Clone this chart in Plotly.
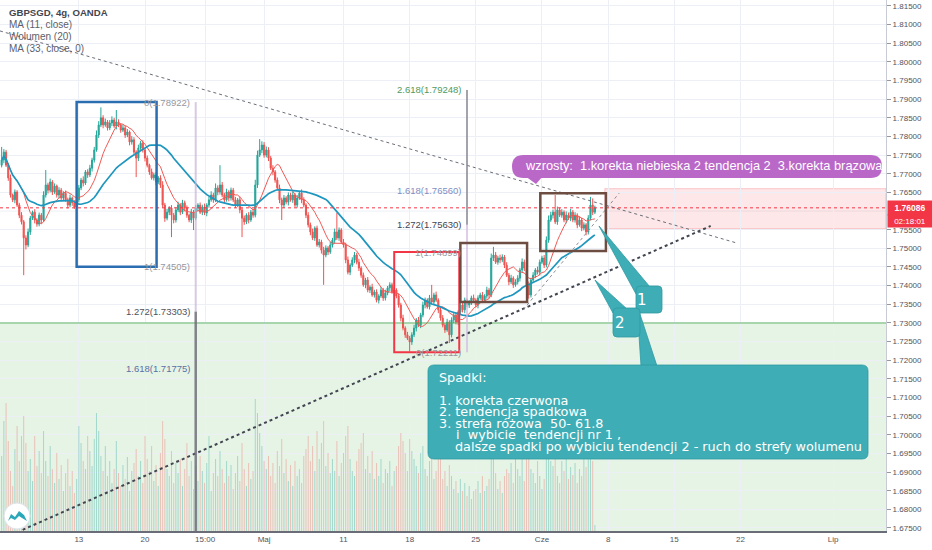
import pandas as pd
import plotly.graph_objects as go

# 4h bars, Mon-Fri only (forex), 3 Apr 2020 04:00 .. 5 Jun 2020 00:00
times = pd.date_range("2020-04-03 04:00", "2020-06-05 00:00", freq="4h")
times = times[times.dayofweek < 5]

first_open = 1.7723
closes = [
    1.7737, 1.7758, 1.7723, 1.7689, 1.7643, 1.7630, 1.7651, 1.7616, 1.7589, 1.7571,
    1.7528, 1.7509, 1.7544, 1.7581, 1.7597, 1.7576, 1.7565, 1.7589, 1.7576, 1.7643,
    1.7670, 1.7656, 1.7678, 1.7651, 1.7667, 1.7643, 1.7656, 1.7635, 1.7648, 1.7630,
    1.7616, 1.7635, 1.7622, 1.7611, 1.7630, 1.7662, 1.7683, 1.7675, 1.7705, 1.7697,
    1.7715, 1.7737, 1.7764, 1.7804, 1.7831, 1.7850, 1.7831, 1.7839, 1.7823, 1.7836,
    1.7844, 1.7828, 1.7839, 1.7831, 1.7817, 1.7823, 1.7804, 1.7812, 1.7785, 1.7791,
    1.7758, 1.7742, 1.7769, 1.7782, 1.7764, 1.7742, 1.7723, 1.7705, 1.7689, 1.7697,
    1.7678, 1.7689, 1.7670, 1.7616, 1.7581, 1.7597, 1.7608, 1.7589, 1.7576, 1.7603,
    1.7616, 1.7597, 1.7622, 1.7608, 1.7589, 1.7576, 1.7597, 1.7581, 1.7608, 1.7616,
    1.7597, 1.7611, 1.7595, 1.7616, 1.7630, 1.7643, 1.7630, 1.7662, 1.7651, 1.7670,
    1.7643, 1.7630, 1.7651, 1.7635, 1.7656, 1.7630, 1.7616, 1.7630, 1.7603, 1.7581,
    1.7571, 1.7589, 1.7576, 1.7597, 1.7589, 1.7670, 1.7750, 1.7764, 1.7777, 1.7750,
    1.7764, 1.7742, 1.7715, 1.7705, 1.7683, 1.7662, 1.7630, 1.7616, 1.7635, 1.7624,
    1.7643, 1.7630, 1.7643, 1.7616, 1.7635, 1.7648, 1.7630, 1.7616, 1.7589, 1.7563,
    1.7544, 1.7528, 1.7554, 1.7509, 1.7517, 1.7495, 1.7482, 1.7501, 1.7490, 1.7509,
    1.7522, 1.7544, 1.7528, 1.7549, 1.7517, 1.7509, 1.7469, 1.7436, 1.7455, 1.7469,
    1.7482, 1.7463, 1.7447, 1.7428, 1.7402, 1.7415, 1.7388, 1.7396, 1.7375, 1.7383,
    1.7361, 1.7372, 1.7388, 1.7367, 1.7380, 1.7394, 1.7402, 1.7383, 1.7388, 1.7372,
    1.7348, 1.7313, 1.7286, 1.7268, 1.7259, 1.7249, 1.7268, 1.7286, 1.7308, 1.7294,
    1.7321, 1.7348, 1.7361, 1.7343, 1.7367, 1.7356, 1.7375, 1.7361, 1.7335, 1.7313,
    1.7294, 1.7281, 1.7302, 1.7268, 1.7308, 1.7321, 1.7302, 1.7329, 1.7348, 1.7335,
    1.7361, 1.7348, 1.7353, 1.7367, 1.7361, 1.7348, 1.7367, 1.7375, 1.7361, 1.7372,
    1.7388, 1.7375, 1.7474, 1.7482, 1.7463, 1.7474, 1.7469, 1.7477, 1.7455, 1.7428,
    1.7410, 1.7420, 1.7402, 1.7410, 1.7420, 1.7442, 1.7463, 1.7447, 1.7402, 1.7375,
    1.7415, 1.7428, 1.7442, 1.7436, 1.7463, 1.7474, 1.7455, 1.7522, 1.7576, 1.7589,
    1.7597, 1.7571, 1.7603, 1.7589, 1.7597, 1.7576, 1.7589, 1.7581, 1.7597, 1.7576,
    1.7589, 1.7563, 1.7576, 1.7554, 1.7563, 1.7544, 1.7581, 1.7616, 1.7597, 1.76086,
]

# wick lengths above / below the candle body, in pips
wick_up = [
    35, 8, 6, 5, 9, 4, 7, 5, 6, 8,
    5, 7, 9, 6, 4, 8, 5, 7, 6, 10,
    40, 6, 9, 5, 7, 4, 8, 6, 5, 7,
    6, 9, 4, 7, 5, 8, 6, 10, 5, 7,
    9, 6, 8, 12, 10, 28, 7, 9, 5, 8,
    10, 6, 32, 7, 5, 9, 6, 8, 4, 10,
    7, 5, 9, 6, 8, 5, 7, 4, 9, 6,
    8, 5, 7, 10, 6, 9, 5, 8, 6, 7,
    9, 5, 8, 6, 7, 4, 9, 6, 8, 5,
    7, 6, 9, 5, 8, 10, 6, 12, 7, 53,
    8, 6, 9, 5, 7, 6, 8, 5, 9, 6,
    7, 5, 8, 6, 9, 14, 12, 29, 10, 8,
    9, 7, 6, 8, 5, 7, 9, 6, 8, 5,
    7, 6, 9, 5, 8, 6, 10, 7, 5, 8,
    6, 9, 5, 7, 8, 6, 9, 7, 5, 8,
    6, 9, 51, 7, 5, 8, 6, 9, 5, 7,
    8, 6, 9, 5, 7, 6, 8, 5, 9, 6,
    7, 5, 8, 6, 9, 5, 7, 6, 8, 5,
    7, 6, 9, 5, 8, 6, 7, 9, 5, 8,
    6, 9, 7, 5, 8, 35, 6, 9, 5, 7,
    8, 6, 9, 5, 7, 6, 8, 5, 9, 6,
    7, 5, 8, 6, 9, 5, 7, 6, 8, 5,
    9, 6, 12, 22, 8, 6, 9, 7, 5, 8,
    6, 9, 5, 7, 8, 6, 10, 7, 5, 9,
    6, 8, 5, 9, 7, 6, 8, 10, 12, 9,
    7, 46, 9, 6, 8, 5, 10, 7, 9, 6,
    8, 5, 9, 6, 7, 5, 8, 22, 18, 6,
]
wick_dn = [
    6, 9, 5, 8, 7, 6, 9, 5, 8, 7,
    100, 12, 6, 8, 5, 9, 7, 6, 10, 5,
    7, 9, 6, 8, 5, 7, 9, 6, 8, 5,
    9, 6, 8, 5, 8, 7, 6, 9, 5, 8,
    6, 9, 7, 5, 8, 6, 9, 5, 7, 6,
    8, 5, 9, 6, 7, 5, 8, 6, 9, 7,
    6, 51, 8, 5, 7, 9, 6, 8, 5, 7,
    9, 6, 8, 7, 10, 6, 8, 59, 9, 7,
    6, 8, 5, 9, 7, 6, 8, 32, 6, 9,
    5, 8, 6, 9, 7, 5, 8, 6, 9, 7,
    6, 8, 5, 9, 7, 6, 8, 5, 9, 51,
    8, 6, 9, 5, 7, 6, 8, 5, 9, 7,
    6, 8, 5, 9, 7, 6, 9, 40, 8, 6,
    9, 5, 8, 6, 7, 5, 9, 6, 8, 7,
    9, 6, 8, 5, 7, 9, 80, 6, 8, 5,
    7, 9, 6, 8, 5, 7, 9, 6, 8, 5,
    9, 6, 8, 7, 5, 9, 6, 8, 5, 7,
    6, 9, 5, 8, 7, 6, 9, 5, 8, 6,
    7, 9, 6, 8, 5, 26, 8, 6, 9, 5,
    8, 6, 9, 5, 7, 6, 8, 5, 9, 7,
    6, 8, 5, 22, 7, 9, 6, 8, 5, 7,
    9, 6, 8, 5, 7, 6, 9, 5, 8, 6,
    7, 9, 6, 8, 5, 7, 9, 6, 8, 5,
    9, 6, 8, 5, 7, 9, 6, 8, 12, 10,
    7, 5, 8, 6, 9, 5, 8, 6, 7, 5,
    9, 6, 8, 5, 7, 6, 9, 5, 8, 6,
    7, 9, 5, 8, 6, 9, 7, 6, 8, 5,
]

volume = [
    75, 110, 128, 90, 60, 45, 82, 105, 70, 95,
    115, 88, 60, 72, 50, 95, 65, 80, 58, 100,
    70, 55, 85, 62, 48, 78, 52, 66, 40, 58,
    72, 45, 60, 38, 52, 105, 88, 70, 62, 95,
    80, 65, 92, 118, 100, 75, 60, 85, 55, 70,
    48, 62, 90, 58, 45, 66, 52, 74, 40, 60,
    68, 82, 55, 70, 48, 95, 72, 60, 85, 50,
    66, 45, 78, 110, 92, 62, 55, 80, 48, 68,
    58, 72, 45, 62, 88, 55, 70, 42, 65, 50,
    75, 60, 48, 68, 95, 40, 58, 72, 55, 80,
    62, 48, 70, 55, 66, 42, 58, 75, 50, 88,
    62, 45, 68, 52, 60, 132, 118, 98, 85, 70,
    62, 75, 55, 68, 48, 80, 65, 92, 58, 72,
    50, 66, 45, 70, 55, 62, 48, 75, 82, 95,
    70, 85, 60, 100, 72, 88, 110, 65, 78, 58,
    72, 60, 90, 55, 68, 78, 95, 105, 72, 60,
    55, 70, 82, 88, 98, 62, 75, 58, 80, 52,
    68, 55, 72, 48, 62, 58, 70, 45, 60, 65,
    85, 98, 90, 78, 60, 92, 80, 72, 65, 58,
    78, 85, 62, 55, 70, 88, 52, 60, 72, 80,
    52, 60, 45, 66, 55, 42, 50, 38, 52, 40,
    48, 35, 45, 32, 40, 42, 50, 38, 55, 40,
    45, 52, 95, 75, 58, 42, 50, 38, 55, 62,
    58, 68, 48, 72, 62, 55, 90, 50, 78, 85,
    62, 58, 48, 70, 55, 42, 52, 100, 92, 70,
    65, 78, 55, 48, 70, 60, 74, 52, 64, 56,
    68, 48, 62, 55, 76, 64, 82, 88, 70, 6,
]

tick_dates = ["2020-04-13", "2020-04-20", "2020-04-24 13:00", "2020-05-01", "2020-05-11",
              "2020-05-18", "2020-05-25", "2020-06-01", "2020-06-08", "2020-06-15",
              "2020-06-22", "2020-07-01"]
tick_labels = ["13", "20", "15:00", "Maj", "11", "18", "25", "Cze", "8", "15", "22", "Lip"]
# price ticks; 1.76000 sits under the last-price label, so it is not labelled
price_ticks = [1.675, 1.68, 1.685, 1.69, 1.695, 1.70, 1.705, 1.71, 1.715, 1.72, 1.725, 1.73,
               1.735, 1.74, 1.745, 1.75, 1.755, 1.765, 1.77, 1.775, 1.78, 1.785, 1.79,
               1.795, 1.80, 1.805, 1.81, 1.815]

last_price = 1.76086
volume_zone = 1.73

fib_left = [("0(1.78922)", 1.78922, "#9598a1"), ("1(1.74505)", 1.74505, "#9598a1"),
            ("1.272(1.73303)", 1.73303, "#50535e"), ("1.618(1.71775)", 1.71775, "#5b6fa5")]
fib_right = [("2.618(1.79248)", 1.79248, "#4e9a5e"), ("1.618(1.76560)", 1.76560, "#7f8fc4"),
             ("1.272(1.75630)", 1.75630, "#434651"), ("1(1.74899)", 1.74899, "#9598a1"),
             ("0(1.72211)", 1.72211, "#9598a1")]

assert len(times) == len(closes) == len(wick_up) == len(wick_dn) == len(volume)

opens = [first_open] + closes[:-1]
highs = [max(o, c) + u / 10000 for o, c, u in zip(opens, closes, wick_up)]
lows = [min(o, c) - d / 10000 for o, c, d in zip(opens, closes, wick_dn)]
ma11 = pd.Series(closes).rolling(11, min_periods=1).mean()
ma33 = pd.Series(closes).rolling(33, min_periods=1).mean()
vol_colors = ["rgba(38,166,154,0.36)" if c >= o else "rgba(239,83,80,0.32)"
              for o, c in zip(opens, closes)]

Y_RANGE = [1.67419, 1.8166]
X_RANGE = ["2020-04-03 01:00", "2020-07-07 00:00"]
W, H = 886, 531  # plot area in pixels


def px(x):
    return x / W


def py(y):
    return 1 - y / H


def poly(points):
    return "M " + " L ".join(f"{px(x):.5f},{py(y):.5f}" for x, y in points) + " Z"


def rrect(x0, y0, x1, y1, r):
    rx, ry = r / W, r / H
    X0, X1, Y0, Y1 = px(x0), px(x1), py(y0), py(y1)
    return (f"M {X0+rx},{Y0} L {X1-rx},{Y0} Q {X1},{Y0} {X1},{Y0-ry} "
            f"L {X1},{Y1+ry} Q {X1},{Y1} {X1-rx},{Y1} L {X0+rx},{Y1} "
            f"Q {X0},{Y1} {X0},{Y1+ry} L {X0},{Y0-ry} Q {X0},{Y0} {X0+rx},{Y0} Z")


fig = go.Figure()
fig.add_trace(go.Bar(x=times, y=volume, yaxis="y2", marker_color=vol_colors,
                     marker_line_width=0, width=4 * 3600 * 1000 * 0.45))
fig.add_trace(go.Candlestick(
    x=times, open=opens, high=highs, low=lows, close=closes,
    increasing=dict(line=dict(color="#26a69a", width=1), fillcolor="#26a69a"),
    decreasing=dict(line=dict(color="#ef5350", width=1), fillcolor="#ef5350"),
))
fig.add_trace(go.Scatter(x=times, y=ma11, mode="lines", line=dict(color="#f05a55", width=1)))
fig.add_trace(go.Scatter(x=times, y=ma33, mode="lines", line=dict(color="#1e96be", width=1.7)))

shapes = []
# zones
shapes.append(dict(type="line", xref="paper", yref="y", x0=0, x1=1, y0=1.76, y1=1.76,
                   line=dict(color="#eceff5", width=1), layer="below"))
shapes.append(dict(type="rect", xref="paper", yref="y", x0=0, x1=1, y0=Y_RANGE[0], y1=volume_zone,
                   fillcolor="rgba(76,175,80,0.14)", line_width=0, layer="below"))
shapes.append(dict(type="line", xref="paper", yref="y", x0=0, x1=1, y0=volume_zone, y1=volume_zone,
                   line=dict(color="rgba(76,175,80,0.55)", width=1.5)))
shapes.append(dict(type="rect", xref="x", yref="y", x0="2020-06-05 18:00", x1=X_RANGE[1],
                   y0=1.7553, y1=1.7660, fillcolor="rgba(242,54,69,0.12)",
                   line=dict(color="rgba(242,54,69,0.25)", width=1), layer="below"))
shapes.append(dict(type="line", xref="paper", yref="y", x0=0, x1=1, y0=last_price, y1=last_price,
                   line=dict(color="#f23645", width=1, dash="dot")))
# trend lines
shapes.append(dict(type="line", x0="2020-04-03 01:00", y0=1.8083, x1="2020-06-19 18:00", y1=1.7514,
                   line=dict(color="#6a6d78", width=1, dash="dot")))
shapes.append(dict(type="line", x0="2020-04-06 18:00", y0=1.6745, x1="2020-06-17 18:00", y1=1.7560,
                   line=dict(color="#434651", width=2, dash="dot")))
shapes.append(dict(type="line", x0="2020-05-28 14:00", y0=1.7335, x1="2020-06-08 20:00", y1=1.7648,
                   line=dict(color="#8a8d96", width=1, dash="dot")))
# fib verticals
shapes.append(dict(type="line", x0="2020-04-23 20:00", x1="2020-04-23 20:00", y0=1.78922, y1=1.73303,
                   line=dict(color="rgba(200,180,215,0.7)", width=2)))
shapes.append(dict(type="line", x0="2020-04-23 20:00", x1="2020-04-23 20:00", y0=1.73303, y1=Y_RANGE[0],
                   line=dict(color="rgba(110,110,120,0.85)", width=2.5)))
shapes.append(dict(type="line", x0="2020-05-22 08:00", x1="2020-05-22 08:00", y0=1.79248, y1=1.7563,
                   line=dict(color="rgba(140,140,150,0.8)", width=2)))
shapes.append(dict(type="line", x0="2020-05-22 08:00", x1="2020-05-22 08:00", y0=1.7563, y1=1.72211,
                   line=dict(color="rgba(210,185,225,0.7)", width=2)))
# boxes
shapes.append(dict(type="rect", x0="2020-04-10 20:00", x1="2020-04-20 21:00", y0=1.74505, y1=1.78922,
                   line=dict(color="#2a6db0", width=2.5)))
shapes.append(dict(type="rect", x0="2020-05-14 20:00", x1="2020-05-21 18:00", y0=1.72211, y1=1.74899,
                   line=dict(color="#f23645", width=2)))
shapes.append(dict(type="rect", x0="2020-05-21 20:00", x1="2020-05-28 21:00", y0=1.7356, y1=1.7514,
                   line=dict(color="#6d4c41", width=2.5)))
shapes.append(dict(type="rect", x0="2020-05-29 21:00", x1="2020-06-05 20:00", y0=1.7493, y1=1.7648,
                   line=dict(color="#6d4c41", width=2.5)))
# callouts
teal = "#3fadb5"
for p in [poly([(641, 366), (657, 366), (637, 305)]), rrect(428, 365, 868, 459, 6),
          poly([(599, 226), (636, 294), (650, 287)]), rrect(636, 286, 662, 313, 4),
          poly([(595, 280), (613, 313), (627, 309)]), rrect(613, 308, 640, 337, 4)]:
    shapes.append(dict(type="path", xref="paper", yref="paper", path=p, fillcolor=teal,
                       line=dict(color="#2e9aa2", width=0.8)))
purple = "#ba68c8"
shapes.append(dict(type="path", xref="paper", yref="paper", path=rrect(512, 155, 882, 178, 11.5),
                   fillcolor=purple, line_width=0))
shapes.append(dict(type="path", xref="paper", yref="paper", path=poly([(525, 176), (543, 176), (536, 184)]),
                   fillcolor=purple, line_width=0))
# logo
shapes.append(dict(type="circle", xref="paper", yref="paper", x0=px(4), x1=px(30), y0=py(529), y1=py(503),
                   fillcolor="white", line=dict(color="#e0e3eb", width=1)))
shapes.append(dict(type="path", xref="paper", yref="paper",
                   path=poly([(8, 521), (11, 514), (15, 517), (19, 511), (24, 515), (27, 521), (22, 518),
                              (19, 516), (15, 520), (11, 518)]),
                   fillcolor="#2aa7b8", line_width=0))

ann = []
legend_rows = [("GBPSGD, 4g, OANDA", 12, True), ("MA (11, close)", 24, False),
               ("Wolumen (20)", 36, False), ("MA (33, close, 0)", 48, False)]
for text, y, bold in legend_rows:
    ann.append(dict(xref="paper", yref="paper", x=px(7), y=py(y), xanchor="left", yanchor="middle",
                    text=f"<b>{text}</b>" if bold else text, showarrow=False,
                    font=dict(family="Liberation Sans", size=9.6 if bold else 10,
                              color="#434651" if bold else "#5d606b")))
for text, y, col in fib_left:
    ann.append(dict(x="2020-04-23 20:00", y=y, xanchor="right", yanchor="middle", xshift=-4,
                    text=text, showarrow=False, font=dict(family="Liberation Sans", size=9.5, color=col)))
for text, y, col in fib_right:
    ann.append(dict(x="2020-05-22 08:00", y=y, xanchor="right", yanchor="middle", xshift=-4,
                    text=text, showarrow=False, font=dict(family="Liberation Sans", size=9.5, color=col)))

box_lines = [("Spadki:", 437, 377), ("1. korekta czerwona", 437, 400),
             ("2. tendencja spadkowa", 437, 411.5), ("3. strefa różowa\u00a0\u00a050- 61.8", 437, 423),
             ("i\u00a0\u00a0wybicie\u00a0\u00a0tendencji nr 1 ,", 454, 434.5),
             ("dalsze spadki po wybiciu tendencji 2 - ruch do strefy wolumenu", 453, 446)]
for text, x, y in box_lines:
    ann.append(dict(xref="paper", yref="paper", x=px(x), y=py(y), xanchor="left", yanchor="middle",
                    text=text, showarrow=False, font=dict(family="DejaVu Sans", size=12.8, color="white")))
ann.append(dict(xref="paper", yref="paper", x=px(649), y=py(299.5), text="1", showarrow=False,
                font=dict(family="DejaVu Sans", size=15, color="white")))
ann.append(dict(xref="paper", yref="paper", x=px(626.5), y=py(322.5), text="2", showarrow=False,
                font=dict(family="DejaVu Sans", size=15, color="white")))
ann.append(dict(xref="paper", yref="paper", x=px(523), y=py(166), xanchor="left", yanchor="middle",
                text="wzrosty:\u00a0\u00a01.korekta niebieska 2 tendencja 2\u00a0\u00a03.korekta brązowa",
                showarrow=False, font=dict(family="Liberation Sans", size=12.8, color="white")))
# price label on the axis
ann.append(dict(xref="paper", yref="y", x=1, y=last_price, xanchor="left", yanchor="middle", xshift=1,
                text="<b>1.76086</b>", showarrow=False, bgcolor="#f23645", width=42, height=12,
                font=dict(family="Liberation Sans", size=8.5, color="white")))
ann.append(dict(xref="paper", yref="paper", x=1, y=py(221), xanchor="left", yanchor="middle", xshift=1,
                text="02:18:01", showarrow=False, bgcolor="#f23645", width=42, height=10,
                font=dict(family="Liberation Sans", size=8, color="white")))

fig.update_layout(
    width=932, height=550, margin=dict(l=0, r=46, t=0, b=19),
    paper_bgcolor="white", plot_bgcolor="white", showlegend=False, hovermode=False,
    shapes=shapes, annotations=ann,
    xaxis=dict(range=X_RANGE, rangebreaks=[dict(bounds=["sat", "mon"])],
               rangeslider=dict(visible=False), tickvals=tick_dates, ticktext=tick_labels,
               showgrid=True, gridcolor="#eceff5", gridwidth=1, showline=True,
               linecolor="#6a6d78", linewidth=1.5, ticks="",
               tickfont=dict(family="Liberation Sans", size=8, color="#50535e")),
    yaxis=dict(range=Y_RANGE, side="right", tickvals=price_ticks, tickformat=".5f",
               showgrid=True, gridcolor="#eceff5", gridwidth=1, ticks="outside", ticklen=4,
               tickcolor="#9598a1", showline=True, linecolor="#c8cbd3", zeroline=False,
               tickfont=dict(family="Liberation Sans", size=8, color="#50535e")),
    yaxis2=dict(range=[0, H], overlaying="y", visible=False),
)

# the page body has a default margin; remove it so the chart sits at the window's corner
fig.write_html("out.html", config={"displayModeBar": False},
               post_script="document.body.style.margin='0';")
